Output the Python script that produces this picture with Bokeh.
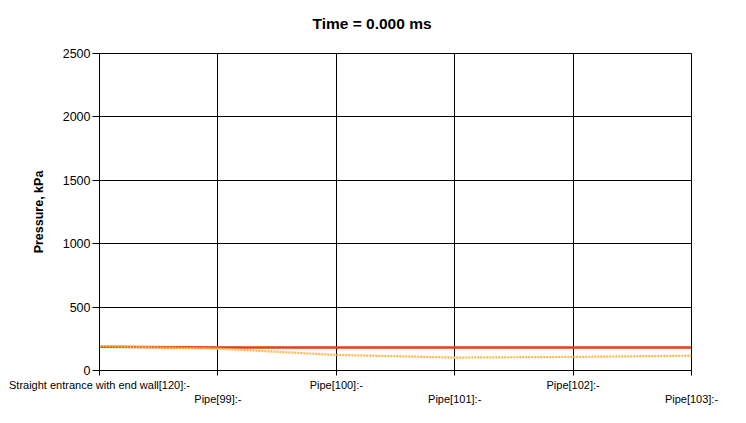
from bokeh.plotting import figure
from bokeh.models import FixedTicker, Range1d, Title
from bokeh.embed import file_html
from bokeh.resources import INLINE

# ---- data ----
categories = ["Straight entrance with end wall[120]:-", "Pipe[99]:-", "Pipe[100]:-",
              "Pipe[101]:-", "Pipe[102]:-", "Pipe[103]:-"]
positions = [0, 1, 2, 3, 4, 5]
red_values = [188, 182, 181, 181, 181, 181]
orange_values = [192, 172, 123, 102, 107, 117]
blue_x = [0, 1, 1.2]
blue_values = [186, 185, 186]
y_ticks = [0, 500, 1000, 1500, 2000, 2500]
title_text = "Time = 0.000 ms"
y_label = "Pressure, kPa"

FONT = "Liberation Sans"

p = figure(width=730, height=407, output_backend="svg", toolbar_location=None,
           x_range=Range1d(0, 5), y_range=Range1d(0, 2500),
           min_border_left=99, min_border_right=39, min_border_top=53, min_border_bottom=35)
p.title = None

# spacer panel between the frame and the title
spacer = Title(text=" ", text_font_size="1px", standoff=19, text_color="white")
p.add_layout(spacer, "above")
main_title = Title(text=title_text, align="left", offset=213, standoff=0,
                   vertical_align="bottom", text_font=FONT, text_font_size="15.5px",
                   text_font_style="bold", text_color="black")
p.add_layout(main_title, "above")

p.outline_line_color = "black"
p.outline_line_width = 1
p.background_fill_color = "white"
p.border_fill_color = "white"

# axes
p.xaxis.ticker = FixedTicker(ticks=positions)
overrides = {}
for i, (pos, lab) in enumerate(zip(positions, categories)):
    overrides[pos] = lab if i % 2 == 0 else "\n" + lab
p.xaxis.major_label_overrides = overrides
p.xaxis.major_label_text_font = FONT
p.xaxis.major_label_text_font_size = "11px"
p.xaxis.major_label_text_color = "black"
p.xaxis.major_label_standoff = 3
p.xaxis.minor_tick_line_color = None
p.xaxis.major_tick_in = 0
p.xaxis.major_tick_out = 5
p.xaxis.axis_line_color = "black"
p.xaxis.major_tick_line_color = "black"

p.yaxis.ticker = FixedTicker(ticks=y_ticks)
p.yaxis.major_label_text_font = FONT
p.yaxis.major_label_text_font_size = "12.5px"
p.yaxis.major_label_text_color = "black"
p.yaxis.minor_tick_line_color = None
p.yaxis.major_tick_in = 0
p.yaxis.major_tick_out = 7
p.yaxis.major_label_standoff = 2
p.yaxis.axis_line_color = "black"
p.yaxis.major_tick_line_color = "black"
p.yaxis.axis_label = y_label
p.yaxis.axis_label_text_font = FONT
p.yaxis.axis_label_text_font_size = "12.5px"
p.yaxis.axis_label_text_font_style = "bold"
p.yaxis.axis_label_text_color = "black"
p.yaxis.axis_label_standoff = 14

p.xgrid.grid_line_color = "black"
p.ygrid.grid_line_color = "black"
p.xgrid.grid_line_alpha = 1
p.ygrid.grid_line_alpha = 1

# series
p.line(blue_x, blue_values, line_color="#B8C8F0", line_width=2, line_dash="2 1")
p.line(positions, red_values, line_color="#E0440E", line_width=2.5)
p.line(positions, orange_values, line_color="#FFB547", line_width=2.2, line_dash="2 1")

open("out.html", "w").write(file_html(p, INLINE))
